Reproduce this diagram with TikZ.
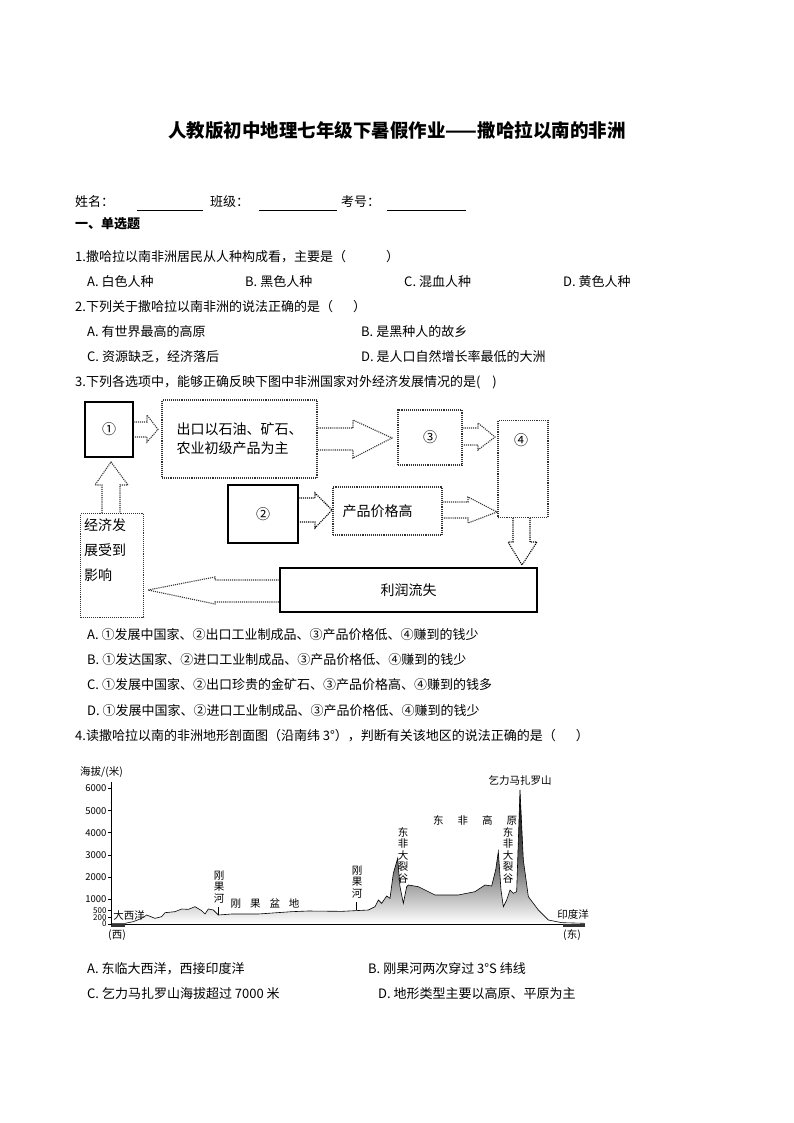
\documentclass[tikz,border=0pt]{standalone}
\usepackage{fontspec}
\setmainfont{Noto Sans CJK SC}
\begin{document}
\begin{tikzpicture}[x=1pt,y=-1pt,
  txt/.style={anchor=west,inner sep=0,font=\fontsize{13}{15}\selectfont},
  fbox/.style={draw=black!80,densely dotted,line width=1.1pt},
  sbox/.style={draw=black,line width=1.2pt},
  ftxt/.style={font=\fontsize{14}{19}\selectfont,inner sep=0},
  ctxt/.style={font=\fontsize{10.5}{12}\selectfont,inner sep=0},
  tk/.style={font=\fontsize{9.5}{10}\selectfont,inner sep=0},
  vtxt/.style={font=\fontsize{10.5}{11.5}\selectfont,inner sep=0,align=center}]
\useasboundingbox (0,0) rectangle (794,1123);
\node[inner sep=0,font=\bfseries\fontsize{18.5}{20}\selectfont] (title) at (397,130) {人教版初中地理七年级下暑假作业——撒哈拉以南的非洲};
\node[txt] (name) at (75,202) {姓名：};
\node[txt] (cls) at (210,202) {班级：};
\node[txt] (num) at (341,202) {考号：};
\coordinate (u1a) at (137,210); \coordinate (u1b) at (203,210);
\coordinate (u2a) at (259,210); \coordinate (u2b) at (337,210);
\coordinate (u3a) at (387,210); \coordinate (u3b) at (466,210);
\draw (u1a)--(u1b); \draw (u2a)--(u2b); \draw (u3a)--(u3b);
\node[txt,font=\bfseries\fontsize{13}{15}\selectfont] (sec) at (75,224) {一、单选题};
\node[txt] (q1) at (75,257) {1.撒哈拉以南非洲居民从人种构成看，主要是（\hspace{40pt}）};
\node[txt] (q1a) at (87,282) {A. 白色人种};
\node[txt] (q1b) at (245,282) {B. 黑色人种};
\node[txt] (q1c) at (404,282) {C. 混血人种};
\node[txt] (q1d) at (563,282) {D. 黄色人种};
\node[txt] (q2) at (75,307) {2.下列关于撒哈拉以南非洲的说法正确的是（\hspace{20pt}）};
\node[txt] (q2a) at (87,332) {A. 有世界最高的高原};
\node[txt] (q2b) at (361,332) {B. 是黑种人的故乡};
\node[txt] (q2c) at (87,357) {C. 资源缺乏，经济落后};
\node[txt] (q2d) at (361,357) {D. 是人口自然增长率最低的大洲};
\node[txt] (q3) at (75,382) {3.下列各选项中，能够正确反映下图中非洲国家对外经济发展情况的是(\hspace{12pt})};
% flow diagram
\node[sbox,minimum width=48pt,minimum height=55pt,ftxt] (b1) at (109,429.5) {①};
\node[fbox,minimum width=155pt,minimum height=78pt,ftxt,align=left] (b2) at (239.5,439) {出口以石油、矿石、\\农业初级产品为主};
\node[fbox,minimum width=64pt,minimum height=55pt,ftxt] (b3) at (430,437.5) {③};
\node[fbox,minimum width=50pt,minimum height=97pt,ftxt,anchor=north] (b4) at (523,420) {};
\node[ftxt] (b4t) at (521,440) {④};
\node[sbox,minimum width=70pt,minimum height=58pt,ftxt] (b5) at (263,514) {②};
\node[fbox,minimum width=109pt,minimum height=48pt,ftxt] (b6) at (387.5,511) {\hspace{-20pt}产品价格高};
\node[sbox,minimum width=257pt,minimum height=44pt,ftxt] (b7) at (408.5,590) {利润流失};
\node[fbox,minimum width=63pt,minimum height=104pt,ftxt,align=left,anchor=north west] (b8) at (80,513) {};
\node[ftxt,align=left,anchor=north west,font=\fontsize{14}{25}\selectfont] (b8t) at (84,518) {经济发\\展受到\\影响};
% arrows
\draw[fbox] (b1.east|-0,422)--(147,422)--(147,415)--(158,429.5)--(147,442)--(147,437)--(b1.east|-0,437);
\draw[fbox] (b2.east|-0,428)--(353,428)--(353,420)--(392,438)--(353,458)--(353,450)--(b2.east|-0,450);
\draw[fbox] (b3.east|-0,428)--(478,428)--(478,423)--(495,437)--(478,450)--(478,445)--(b3.east|-0,445);
\draw[fbox,draw=black] (513,0|-b4.south)--(513,542)--(508,542)--(522,565)--(537,542)--(530,542)--(530,0|-b4.south);
\draw[fbox,draw=black] (b5.east|-0,498)--(315,498)--(315,493)--(332,510)--(315,528)--(315,522)--(b5.east|-0,522);
\draw[fbox] (b6.east|-0,502)--(468,502)--(468,497)--(497,512)--(468,523)--(468,518)--(b6.east|-0,518);
\draw[fbox] (b7.west|-0,580)--(215,580)--(215,577)--(148,590)--(215,604)--(215,602)--(b7.west|-0,602);
\draw[fbox] (102,0|-b8.north)--(102,485)--(95,485)--(111,462)--(128,485)--(120,485)--(120,0|-b8.north);
\node[txt] (q3a) at (87,635) {A. ①发展中国家、②出口工业制成品、③产品价格低、④赚到的钱少};
\node[txt] (q3b) at (87,660) {B. ①发达国家、②进口工业制成品、③产品价格低、④赚到的钱少};
\node[txt] (q3c) at (87,685) {C. ①发展中国家、②出口珍贵的金矿石、③产品价格高、④赚到的钱多};
\node[txt] (q3d) at (87,711) {D. ①发展中国家、②进口工业制成品、③产品价格低、④赚到的钱少};
\node[txt] (q4) at (75,736) {4.读撒哈拉以南的非洲地形剖面图（沿南纬 3°），判断有关该地区的说法正确的是（\hspace{20pt}）};
% profile chart
\begin{scope}[shift={(75,760)},scale=1/3]
\path[clip] (110,490)--(150,490)--(175,485)--(200,475)--(215,465)--(240,475)--(260,470)--(270,458)--(300,455)--(320,447)--(340,448)--(360,440)--(380,452)--(390,462)--(400,447)--(415,450)--(430,465)--(470,462)--(550,462)--(650,455)--(700,453)--(800,454)--(880,450)--(900,440)--(910,420)--(920,430)--(935,408)--(945,415)--(955,340)--(968,295)--(975,380)--(985,430)--(995,380)--(1000,375)--(1030,380)--(1080,405)--(1150,405)--(1200,395)--(1230,375)--(1250,378)--(1262,330)--(1270,275)--(1278,390)--(1285,440)--(1295,420)--(1305,390)--(1315,400)--(1325,395)--(1335,90)--(1345,300)--(1360,410)--(1390,450)--(1420,480)--(1460,488)--(1530,490)--cycle;
\shade[top color=black,bottom color=white,middle color=black!65] (100,90) rectangle (1540,490);
\end{scope}
\begin{scope}[shift={(75,760)},scale=1/3]
\draw[line width=0.6pt] (110,490)--(150,490)--(175,485)--(200,475)--(215,465)--(240,475)--(260,470)--(270,458)--(300,455)--(320,447)--(340,448)--(360,440)--(380,452)--(390,462)--(400,447)--(415,450)--(430,465)--(470,462)--(550,462)--(650,455)--(700,453)--(800,454)--(880,450)--(900,440)--(910,420)--(920,430)--(935,408)--(945,415)--(955,340)--(968,295)--(975,380)--(985,430)--(995,380)--(1000,375)--(1030,380)--(1080,405)--(1150,405)--(1200,395)--(1230,375)--(1250,378)--(1262,330)--(1270,275)--(1278,390)--(1285,440)--(1295,420)--(1305,390)--(1315,400)--(1325,395)--(1335,90)--(1345,300)--(1360,410)--(1390,450)--(1420,480)--(1460,488)--(1530,490);
\draw[line width=0.8pt] (110,65)--(110,492)--(1530,492);
\fill[black!80] (108,492) rectangle (150,500);
\fill[black!80] (1465,492) rectangle (1530,500);
\foreach \v/\y in {6000/85,5000/152,4000/218,3000/285,2000/352,1000/418}{
  \draw (100,\y)--(110,\y);
  \node[tk,anchor=east] (t\v) at (95,\y) {\v};}
\foreach \v/\y in {500/452,200/472,0/492}{
  \draw (100,\y)--(110,\y);
  \node[tk,anchor=east,font=\fontsize{8}{8}\selectfont] (t\v) at (95,\y) {\v};}
\draw (430,440)--(430,465);
\draw (845,425)--(845,450);
\end{scope}
\node[ctxt,anchor=west] (ylab) at (80,772) {海拔/(米)};
\node[ctxt] (kili) at (520,781) {乞力马扎罗山};
\node[ctxt] (plat) at (475,820) {东\hspace{14pt}非\hspace{14pt}高\hspace{14pt}原};
\node[vtxt] (rift1) at (403,855) {东\\非\\大\\裂\\谷};
\node[vtxt] (rift2) at (508,855) {东\\非\\大\\裂\\谷};
\node[vtxt] (cg1) at (219,887) {刚\\果\\河};
\node[vtxt] (cg2) at (357,882) {刚\\果\\河};
\node[ctxt] (basin) at (265,903) {刚\hspace{9pt}果\hspace{9pt}盆\hspace{9pt}地};
\node[ctxt] (atl) at (129,915) {大西洋};
\node[ctxt] (ind) at (573,914) {印度洋};
\node[ctxt] (west) at (117,935) {(西)};
\node[ctxt] (east) at (572,935) {(东)};
\node[txt] (q4a) at (87,969) {A. 东临大西洋，西接印度洋};
\node[txt] (q4b) at (368,969) {B. 刚果河两次穿过 3°S 纬线};
\node[txt] (q4c) at (87,994) {C. 乞力马扎罗山海拔超过 7000 米};
\node[txt] (q4d) at (378,994) {D. 地形类型主要以高原、平原为主};
\end{tikzpicture}
\end{document}
